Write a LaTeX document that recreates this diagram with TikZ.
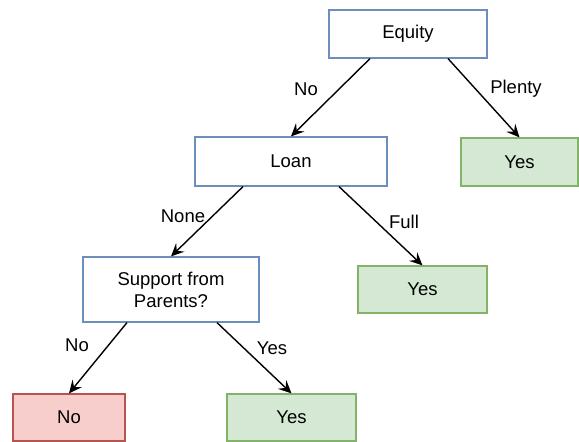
\documentclass[tikz,border=0pt]{standalone}
\usepackage{fontspec}
\setmainfont{Liberation Sans}
\usetikzlibrary{arrows.meta}

\definecolor{askline}{HTML}{6C8EBF}
\definecolor{yesfill}{HTML}{D5E8D4}
\definecolor{yesline}{HTML}{82B366}
\definecolor{nofill}{HTML}{F8CECC}
\definecolor{noline}{HTML}{B85450}

\tikzset{
    box/.style={line width=1.2pt, inner sep=0pt, align=center,
        font=\fontsize{18.5}{22}\selectfont},
    question/.style={box, draw=askline, fill=white},
    yesleaf/.style={box, draw=yesline, fill=yesfill},
    noleaf/.style={box, draw=noline, fill=nofill},
    choice/.style={inner sep=0pt, font=\fontsize{18.5}{22}\selectfont},
    branch/.style={line width=1.4pt, -{Stealth[length=13pt,width=12pt,inset=5pt]}}
}

\begin{document}
\begin{tikzpicture}[x=1pt,y=-1pt]
\useasboundingbox (0,0) rectangle (579,442);

% questions
\node[question, minimum width=158pt, minimum height=48pt] (equity) at (408,34) {Equity};
\node[question, minimum width=192pt, minimum height=49pt] (loan) at (291,161.5) {Loan};
\node[question, minimum width=176pt, minimum height=65pt] (support) at (171,289.5) {Support from\\Parents?};

% answers
\node[yesleaf, minimum width=117pt, minimum height=48pt] (yes1) at (519.5,162) {Yes};
\node[yesleaf, minimum width=129pt, minimum height=47pt] (yes2) at (422.5,289.5) {Yes};
\node[noleaf, minimum width=112pt, minimum height=47pt] (no3) at (69,417.5) {No};
\node[yesleaf, minimum width=129pt, minimum height=47pt] (yes3) at (291.5,417.5) {Yes};

% branches
\path[branch] ([xshift=-38pt]equity.south) edge (loan.north);
\path[branch] ([xshift=40pt]equity.south) edge (yes1.north);
\path[branch] ([xshift=-48pt]loan.south) edge (support.north);
\path[branch] ([xshift=48pt]loan.south) edge (yes2.north);
\path[branch] ([xshift=-44pt]support.south) edge (no3.north);
\path[branch] ([xshift=46pt]support.south) edge (yes3.north);

% branch labels
\node[choice] (lno1) at (306,89) {No};
\node[choice] (lplenty) at (516,89) {Plenty};
\node[choice] (lnone) at (183,216) {None};
\node[choice] (lfull) at (404,222) {Full};
\node[choice] (lno3) at (77,345) {No};
\node[choice] (lyes3) at (272,348) {Yes};
\end{tikzpicture}
\end{document}
